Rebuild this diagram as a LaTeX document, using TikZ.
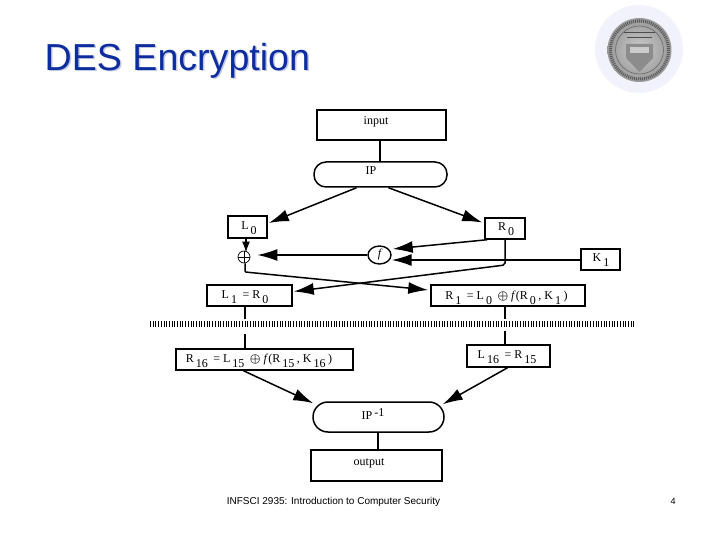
\documentclass[tikz,border=0pt]{standalone}
\usepackage{amsmath,amssymb}
\usepackage{fontspec}
\setmainfont{Liberation Serif}
\newfontfamily\slidefont{Liberation Sans}
\usetikzlibrary{shapes,arrows.meta,positioning,calc}
\definecolor{titleBlue}{RGB}{12,44,160}
\definecolor{titleShadow}{RGB}{196,202,222}
\definecolor{sealHalo}{RGB}{242,242,252}
\newcommand{\lowr}[1]{\hspace{2pt}\raisebox{-5pt}{#1}\hspace{2.5pt}}
\tikzset{
  boxnode/.style={rectangle, draw, line width=1.5pt, inner sep=0pt},
  pillnode/.style={boxnode, rounded corners=12pt},
  lbl/.style={inner sep=0pt, font=\fontsize{12}{14}\selectfont},
  flow/.style={line width=1.5pt},
  bigflow/.style={flow, -{Latex[length=20pt,width=12pt]}},
  smallflow/.style={flow, -{Latex[length=11pt,width=8pt]}}
}

\begin{document}
\begin{tikzpicture}[x=1pt,y=-1pt]
    \useasboundingbox (0,0) rectangle (720,540);

    % Title and seal
    \node[anchor=west, inner sep=0pt, text=titleShadow, font=\slidefont\fontsize{37.6}{40}\selectfont] (titleback) at (46,62) {DES Encryption};
    \node[anchor=west, inner sep=0pt, text=titleBlue, font=\slidefont\fontsize{37.6}{40}\selectfont] (title) at (44.5,60.5) {DES Encryption};
    \fill[sealHalo] (639,49) ellipse (44 and 44);
    \shade[inner color=gray!40, outer color=gray!80] (639.5,50) ellipse (32 and 32);
    \draw[black!65, line width=3pt, dash pattern=on 1pt off 1pt] (639.5,50) ellipse (29 and 29);
    \draw[black!60, line width=0.6pt] (639.5,50) ellipse (24 and 24);
    \fill[black!45] (626,44) -- (653,44) -- (653,58) -- (639.5,72) -- (626,58) -- cycle;
    \fill[white!80!black] (630,47) rectangle (649,53);
    \draw[black!70, line width=1pt] (624,33) -- (655,33);
    \draw[black!70, line width=1pt] (627,38) -- (652,38);

    % Nodes
    \node[boxnode, minimum width=129pt, minimum height=30pt] (input) at (381.5,125) {};
    \node[pillnode, minimum width=133pt, minimum height=25pt] (ip) at (380.5,174.5) {};
    \node[boxnode, minimum width=39pt, minimum height=22pt] (L0) at (247.5,227) {};
    \node[boxnode, minimum width=40pt, minimum height=21pt] (R0) at (505,228.5) {};
    \node[circle, draw, line width=0.7pt, minimum size=12pt, inner sep=0pt,
          path picture={\draw[line width=0.7pt] (path picture bounding box.north) -- (path picture bounding box.south)
                        (path picture bounding box.west) -- (path picture bounding box.east);}] (xor) at (244,257) {};
    \node[ellipse, draw, line width=1.4pt, minimum width=23pt, minimum height=18pt, inner sep=0pt] (f) at (379.5,255) {\fontsize{12}{14}\selectfont\itshape f};
    \node[boxnode, minimum width=39pt, minimum height=21pt] (K1) at (600.5,259.5) {};
    \node[boxnode, minimum width=85pt, minimum height=21pt] (L1) at (249.5,295.5) {};
    \node[boxnode, minimum width=154pt, minimum height=21pt] (R1) at (508,295.5) {};
    \node[boxnode, minimum width=177pt, minimum height=21pt] (R16) at (264.5,359.5) {};
    \node[boxnode, minimum width=83pt, minimum height=22pt] (L16) at (508.5,356) {};
    \node[pillnode, rounded corners=15pt, minimum width=131pt, minimum height=30pt] (ipinv) at (378.5,417) {};
    \node[boxnode, minimum width=131pt, minimum height=31pt] (output) at (376.5,465.5) {};

    % Labels
    \node[lbl] (inputtext) at (376,122) {input};
    \node[lbl] (iptext) at (371,171) {IP};
    \node[lbl] (L0text) at (249,228.5) {L\lowr{0}};
    \node[lbl] (R0text) at (506,229) {R\lowr{0}};
    \node[lbl] (K1text) at (601,260) {K\lowr{1}};
    \node[lbl] (L1text) at (245,297.5) {L\lowr{1} = R\lowr{0}};
    \node[lbl] (R1text) at (506.5,297.5) {R\lowr{1} = L\lowr{0} $\boldsymbol{\oplus}$ \textit{f}(R\lowr{0}, K\lowr{1})};
    \node[lbl] (R16text) at (259,361) {R\lowr{16} = L\lowr{15} $\boldsymbol{\oplus}$ \textit{f}(R\lowr{15}, K\lowr{16})};
    \node[lbl] (L16text) at (507,357.5) {L\lowr{16} = R\lowr{15}};
    \node[lbl] (ipinvtext) at (373,414) {IP\,\raisebox{3pt}{-1}};
    \node[lbl] (outputtext) at (369,463) {output};

    % Edges
    \draw[flow] ([xshift=-1.5pt]input.south) -- ([xshift=-1.5pt]input.south |- ip.north);
    \draw[bigflow] ([xshift=-24pt]ip.south) -- ([yshift=4pt,xshift=1pt]L0.east);
    \draw[bigflow] ([xshift=8pt]ip.south) -- ([yshift=6pt,xshift=-2pt]R0.west);
    \draw[smallflow] ([xshift=-1.5pt]L0.south) -- ([xshift=-1.5pt,yshift=-2pt]L0.south |- xor.north);
    \draw[bigflow] ([xshift=-18pt]R0.south) -- ([yshift=6pt,xshift=1pt]f.east);
    \draw[bigflow] ([yshift=-0.5pt]K1.west) -- ([yshift=-0.5pt]K1.west -| f.east);
    \draw[bigflow] (f.west) -- ([xshift=7pt]f.west -| xor.east);

    % Crossing
    \coordinate (R0bend) at (505,265);
    \coordinate (xorbend) at (245,272);
    \draw[bigflow, rounded corners=2pt] (R0.south) -- (R0bend) -- ([yshift=4pt,xshift=1pt]L1.east);
    \draw[bigflow, rounded corners=1pt] ([xshift=1pt]xor.south) -- (xorbend) -- ([yshift=5.5pt,xshift=-2pt]R1.west);

    % Rounds in between
    \coordinate (hatchleft) at (150,324);
    \coordinate (hatchright) at (635,324);
    \draw[line width=5.5pt, dash pattern=on 1pt off 1.7pt] (hatchleft) -- (hatchright);
    \coordinate (leftdown) at (245,319);
    \coordinate (leftup) at (245,334);
    \coordinate (rightdown) at (505,319);
    \coordinate (rightup) at (505,331);
    \draw[flow] (leftdown |- L1.south) -- (leftdown);
    \draw[flow] (leftup) -- (leftup |- R16.north);
    \draw[flow] (rightdown |- R1.south) -- (rightdown);
    \draw[flow] (rightup) -- (rightup |- L16.north);

    % Last half
    \draw[bigflow] ([xshift=-21pt]R16.south) -- ([xshift=1pt,yshift=-2pt]ipinv.north west);
    \draw[bigflow] ([xshift=-1pt]L16.south) -- ([xshift=-2pt,yshift=-3pt]ipinv.north east);
    \draw[flow] ([xshift=-0.5pt]ipinv.south) -- ([xshift=-0.5pt]ipinv.south |- output.north);

    % Footer
    \node[inner sep=0pt, font=\slidefont\fontsize{10}{12}\selectfont] (footer) at (333.5,501.5) {INFSCI 2935: Introduction to Computer Security};
    \node[inner sep=0pt, font=\slidefont\fontsize{9}{11}\selectfont] (pagenum) at (673,501.5) {4};
\end{tikzpicture}
\end{document}
